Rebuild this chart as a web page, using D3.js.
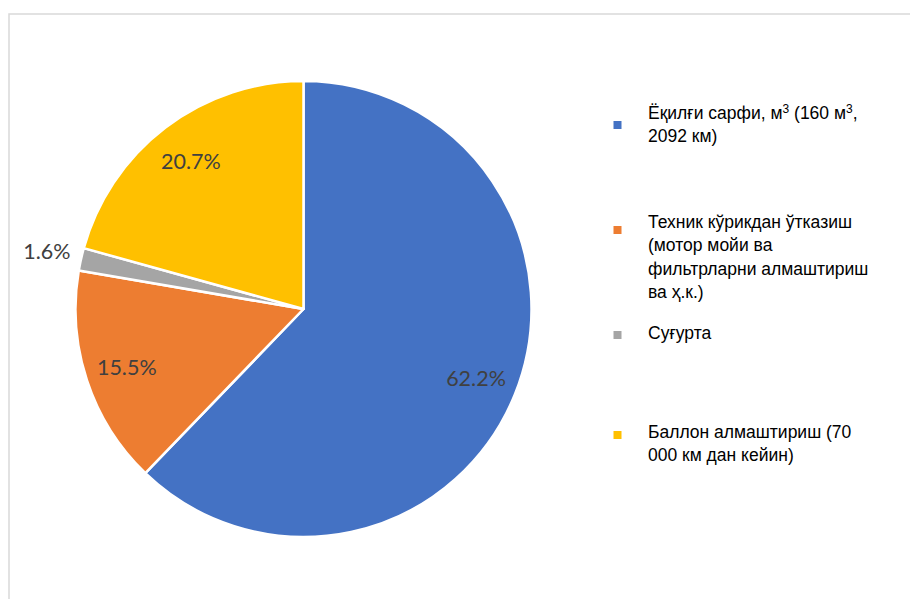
<!DOCTYPE html>
<html><head><meta charset="utf-8">
<script src="https://cdn.jsdelivr.net/npm/d3@7"></script>
<style>body{margin:0;background:#fff}svg{display:block}</style>
</head><body>
<script>
// "^" marks a superscript character in legend text
const categories = [
  ["Ёқилғи сарфи, м^3 (160 м^3,", "2092 км)"],
  ["Техник кўрикдан ўтказиш", "(мотор мойи ва", "фильтрларни алмаштириш", "ва ҳ.к.)"],
  ["Суғурта"],
  ["Баллон алмаштириш (70", "000 км дан кейин)"]
];
const values = [62.2, 15.5, 1.6, 20.7];
const labels = ["62.2%", "15.5%", "1.6%", "20.7%"];
const colors = ["#4472C4", "#ED7D31", "#A5A5A5", "#FFC000"];

const W = 910, H = 599;
const svg = d3.select("body").append("svg").attr("width", W).attr("height", H);

svg.append("rect").attr("x", 9).attr("y", 14).attr("width", 940).attr("height", 640)
  .attr("fill", "none").attr("stroke", "#d9d9d9").attr("stroke-width", 1.5);

const cx = 303.5, cy = 309, R = 228;
const pie = d3.pie().sort(null).value(d => d);
const arcs = pie(values);
const arc = d3.arc().innerRadius(0).outerRadius(R);
const g = svg.append("g").attr("transform", `translate(${cx},${cy})`);
g.selectAll("path").data(arcs).join("path")
  .attr("d", arc).attr("fill", (d, i) => colors[i])
  .attr("stroke", "#fff").attr("stroke-width", 2.5).attr("stroke-linejoin", "round");

const inner = d3.arc().innerRadius(186).outerRadius(186);
const outer = d3.arc().innerRadius(263).outerRadius(263);
g.selectAll("text.lbl").data(arcs).join("text").attr("class", "lbl")
  .attr("transform", (d, i) => `translate(${(i === 2 ? outer : inner).centroid(d)})`)
  .attr("text-anchor", "middle").attr("dy", "0.36em")
  .attr("font-family", "Lato, 'Open Sans', sans-serif").attr("font-size", 21.5)
  .attr("fill", "#404040").text((d, i) => labels[i]);

// legend
const entryTop = [113, 222, 333, 432];
const markerOff = [12, 8, 2, 3];
const lineH = 23.3;
const lg = svg.append("g");
categories.forEach((lines, i) => {
  lg.append("rect").attr("x", 613.5).attr("y", entryTop[i] + markerOff[i] - 4)
    .attr("width", 8).attr("height", 8).attr("fill", colors[i]);
  const t = lg.append("text").attr("font-family", "'Liberation Sans', Arial, sans-serif")
    .attr("font-size", 17.5).attr("fill", "#000");
  lines.forEach((ln, j) => {
    const y = entryTop[i] + j * lineH + 6;
    const parts = ln.split(/(\^.)/);
    let first = true;
    parts.forEach(p => {
      if (!p) return;
      const ts = t.append("tspan");
      if (first) { ts.attr("x", 648); first = false; }
      if (p[0] === "^") {
        ts.attr("y", y - 6).attr("font-size", 12).text(p[1]);
      } else {
        ts.attr("y", y).text(p);
      }
    });
  });
});
</script>
</body></html>
